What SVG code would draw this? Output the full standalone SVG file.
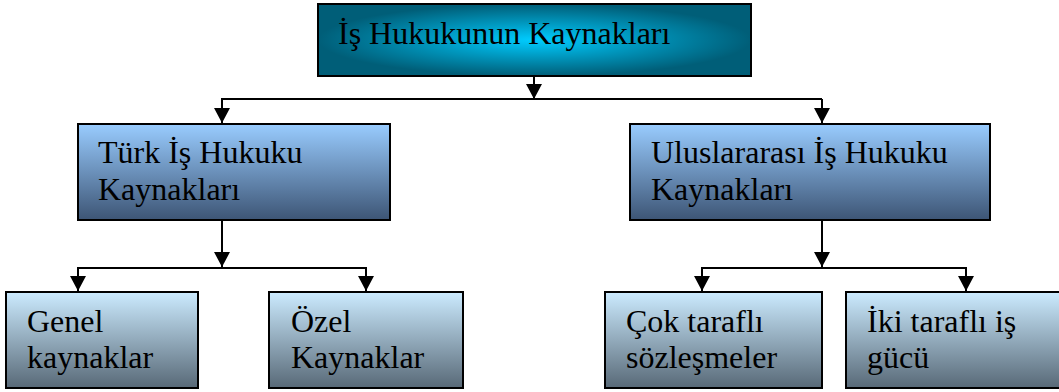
<svg xmlns="http://www.w3.org/2000/svg" width="1059" height="392" viewBox="0 0 1059 392">
<style>
.box{stroke:#000;stroke-width:2}
.t{font-family:'Liberation Serif','Times New Roman',serif;font-size:32px;fill:#000}
.c{fill:none;stroke:#000;stroke-width:2}
</style>
<defs>
<radialGradient id="gTop" cx="0.5" cy="0.5" r="0.5">
<stop offset="0" stop-color="#00CCFF"/>
<stop offset="1" stop-color="#005E78"/>
</radialGradient>
<linearGradient id="g2" x1="0" y1="0" x2="0" y2="1">
<stop offset="0" stop-color="#99CCFF"/>
<stop offset="1" stop-color="#3D5575"/>
</linearGradient>
<linearGradient id="g3" x1="0" y1="0" x2="0" y2="1">
<stop offset="0" stop-color="#CCEBFF"/>
<stop offset="1" stop-color="#586977"/>
</linearGradient>
<marker id="ah" viewBox="0 0 15 16" refX="15" refY="8" markerWidth="15" markerHeight="16" markerUnits="userSpaceOnUse" orient="auto">
<path d="M0,0 L15,8 L0,16 z" fill="#000"/>
</marker>
</defs>
<g id="connectors">
<path class="c" d="M534,76 V99" marker-end="url(#ah)"/>
<path class="c" d="M221,99 H822"/>
<path class="c" d="M222,99 V123" marker-end="url(#ah)"/>
<path class="c" d="M822,99 V123" marker-end="url(#ah)"/>
<path class="c" d="M222,220 V267" marker-end="url(#ah)"/>
<path class="c" d="M77,268 H367"/>
<path class="c" d="M78,268 V291" marker-end="url(#ah)"/>
<path class="c" d="M366,268 V291" marker-end="url(#ah)"/>
<path class="c" d="M822,220 V267" marker-end="url(#ah)"/>
<path class="c" d="M701,268 H967"/>
<path class="c" d="M702,268 V291" marker-end="url(#ah)"/>
<path class="c" d="M966,268 V291" marker-end="url(#ah)"/>
</g>
<g id="root">
<rect class="box" x="318" y="4" width="433" height="72" fill="url(#gTop)"/>
<text class="t" x="338" y="44">İş Hukukunun Kaynakları</text>
</g>
<g id="turk">
<rect class="box" x="78" y="124" width="312" height="96" fill="url(#g2)"/>
<text class="t" x="98" y="163">Türk İş Hukuku</text>
<text class="t" x="98" y="200">Kaynakları</text>
</g>
<g id="uluslararasi">
<rect class="box" x="630" y="124" width="360" height="96" fill="url(#g2)"/>
<text class="t" x="651" y="163">Uluslararası İş Hukuku</text>
<text class="t" x="651" y="200">Kaynakları</text>
</g>
<g id="genel">
<rect class="box" x="6" y="292" width="192" height="96" fill="url(#g3)"/>
<text class="t" x="27" y="332">Genel</text>
<text class="t" x="27" y="368">kaynaklar</text>
</g>
<g id="ozel">
<rect class="box" x="269" y="292" width="194" height="96" fill="url(#g3)"/>
<text class="t" x="291" y="332">Özel</text>
<text class="t" x="291" y="368">Kaynaklar</text>
</g>
<g id="cok">
<rect class="box" x="605" y="292" width="217" height="96" fill="url(#g3)"/>
<text class="t" x="626" y="332">Çok taraflı</text>
<text class="t" x="626" y="368">sözleşmeler</text>
</g>
<g id="iki">
<rect class="box" x="846" y="292" width="222" height="96" fill="url(#g3)"/>
<text class="t" x="867" y="332">İki taraflı iş</text>
<text class="t" x="867" y="368">gücü</text>
</g>
</svg>
